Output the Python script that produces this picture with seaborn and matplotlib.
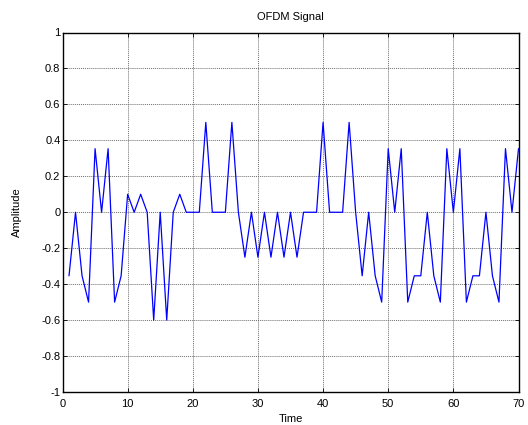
import numpy as np
import pandas as pd
import matplotlib
matplotlib.use("Agg")
import matplotlib.pyplot as plt
import seaborn as sns

r = 0.3536  # 0.25 * sqrt(2)

time = list(range(1, 71))
amplitude = [
    -r, 0, -r, -0.5, r, 0, r, -0.5, -r, 0.1,
    0, 0.1, 0, -0.6, 0, -0.6, 0, 0.1, 0, 0,
    0, 0.5, 0, 0, 0, 0.5, 0, -0.25, 0, -0.25,
    0, -0.25, 0, -0.25, 0, -0.25, 0, 0, 0, 0.5,
    0, 0, 0, 0.5, 0, -r, 0, -r, -0.5, r,
    0, r, -0.5, -r, -r, 0, -r, -0.5, r, 0,
    r, -0.5, -r, -r, 0, -r, -0.5, r, 0, r,
]
x_ticks = [0, 10, 20, 30, 40, 50, 60, 70]
y_ticks = [-1, -0.8, -0.6, -0.4, -0.2, 0, 0.2, 0.4, 0.6, 0.8, 1]
y_tick_labels = ["-1", "-0.8", "-0.6", "-0.4", "-0.2", "0", "0.2", "0.4", "0.6", "0.8", "1"]

df = pd.DataFrame({"Time": time, "Amplitude": amplitude})

sns.set_theme(style="white")
plt.rcParams["font.family"] = ["Liberation Sans", "DejaVu Sans"]

fig = plt.figure(figsize=(5.28, 4.25), dpi=100)
ax = fig.add_axes([62.5 / 528, 1 - 392 / 425, (518.5 - 62.5) / 528, (392 - 32.5) / 425])

sns.lineplot(data=df, x="Time", y="Amplitude", ax=ax, color="#0000ff", linewidth=0.9)

ax.set_xlim(0, 70)
ax.set_ylim(-1, 1)
ax.set_xticks(x_ticks)
ax.set_xticklabels([str(t) for t in x_ticks])
ax.set_yticks(y_ticks)
ax.set_yticklabels(y_tick_labels)

ax.grid(True, color="#6e6e6e", linestyle=(0, (1, 1)), linewidth=0.7)
ax.set_axisbelow(True)

for s in ax.spines.values():
    s.set_visible(True)
    s.set_color("black")
    s.set_linewidth(1.0)

ax.tick_params(axis="both", which="both", direction="in", length=3, width=0.6,
               top=True, right=True, bottom=True, left=True,
               labelsize=8, colors="black")
ax.tick_params(axis="y", pad=1.5)
ax.tick_params(axis="x", pad=5)

ax.set_title("OFDM Signal", fontsize=8, color="black", pad=9)
ax.set_xlabel("Time", fontsize=8, color="black", labelpad=4)
ax.set_ylabel("Amplitude", fontsize=8, color="black", labelpad=14)

fig.savefig("out.png", dpi=100, facecolor="white")
